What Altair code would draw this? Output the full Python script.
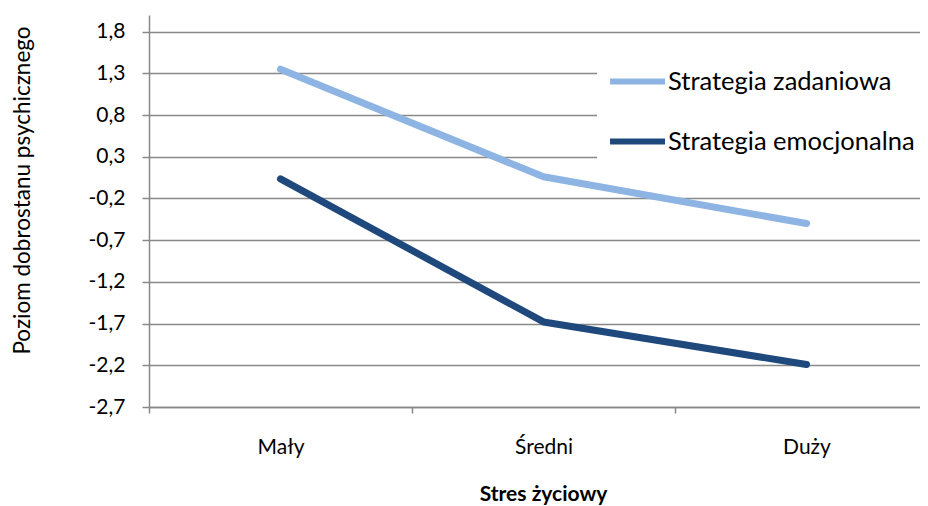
import altair as alt
import pandas as pd

categories = ["Mały", "Średni", "Duży"]
series_names = ["Strategia zadaniowa", "Strategia emocjonalna"]
zadaniowa = [1.35, 0.06, -0.50]
emocjonalna = [0.035, -1.68, -2.19]
y_ticks = [-2.7, -2.2, -1.7, -1.2, -0.7, -0.2, 0.3, 0.8, 1.3, 1.8]
colors = ["#8DB4E2", "#1F497D"]

rows = []
for s, vals in zip(series_names, [zadaniowa, emocjonalna]):
    for c, v in zip(categories, vals):
        rows.append({"stres": c, "strategia": s, "poziom": v})
df = pd.DataFrame(rows)

FONT = "Lato"
GRID = "#898989"

chart = alt.Chart(df).mark_line(
    strokeWidth=7, strokeCap="round", strokeJoin="round"
).encode(
    x=alt.X(
        "stres:N",
        sort=categories,
        bandPosition=0.5,
        scale=alt.Scale(type="band", domain=categories, range=[0, 789],
                        paddingInner=0, paddingOuter=0),
        axis=alt.Axis(
            title="Stres życiowy",
            tickBand="extent",
            grid=False,
            labelAngle=0,
            labelFont=FONT, labelFontSize=21, labelColor="black",
            labelPadding=23,
            tickSize=6, tickColor=GRID, tickWidth=1.5,
            domainColor=GRID, domainWidth=1.5,
            titleFont=FONT, titleFontSize=21, titleFontWeight="bold",
            titleColor="black", titleX=394, titleY=93,
            titleBaseline="alphabetic", titleAlign="center",
        ),
    ),
    y=alt.Y(
        "poziom:Q",
        scale=alt.Scale(domain=[-2.7, 2.0], nice=False, zero=False),
        axis=alt.Axis(
            title="Poziom dobrostanu psychicznego",
            values=y_ticks,
            labelExpr="replace(replace(format(datum.value, '.1f'), '.', ','), '\u2212', '-')",
            labelFont=FONT, labelFontSize=21, labelColor="black",
            labelPadding=17,
            tickSize=7, tickColor=GRID, tickWidth=1.5,
            domainColor=GRID, domainWidth=1.5,
            grid=True, gridColor=GRID, gridWidth=1.5,
            titleFont=FONT, titleFontSize=22.5, titleFontWeight="normal",
            titleColor="black", titleX=-127, titleY=175,
            titleAngle=-90, titleBaseline="middle", titleAlign="center",
        ),
    ),
    color=alt.Color(
        "strategia:N",
        sort=series_names,
        scale=alt.Scale(domain=series_names, range=colors),
        legend=alt.Legend(
            title=None, orient="none", legendX=448, legendY=26,
            fillColor="white", padding=10,
            symbolType="stroke", symbolSize=3025, symbolStrokeWidth=6,
            labelFont=FONT, labelFontSize=25.5, labelColor="black",
            labelOffset=0, rowPadding=16, labelLimit=400,
        ),
    ),
).properties(
    width=771,
    height=392,
    autosize=alt.AutoSizeParams(type="none"),
    padding={"left": 141, "top": 7, "right": 0, "bottom": 99},
).configure_view(stroke=None)

chart.save("out.html", embed_options={"renderer": "svg", "actions": False})
